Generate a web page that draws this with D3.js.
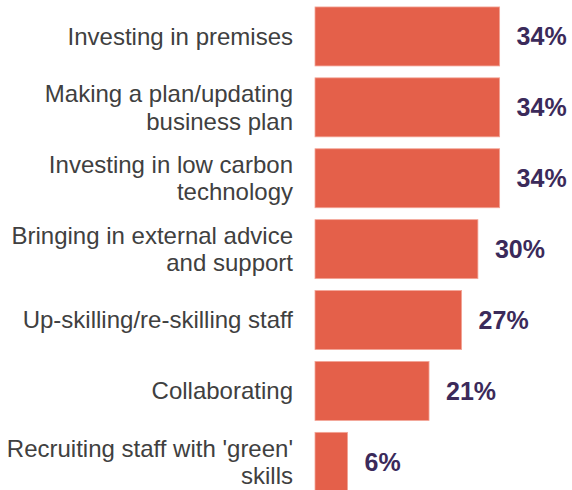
<!DOCTYPE html>
<html>
<head>
<meta charset="utf-8">
<script src="https://cdn.jsdelivr.net/npm/d3@7"></script>
<style>
  html, body { margin: 0; padding: 0; background: #ffffff; }
  svg { display: block; }
</style>
</head>
<body>
<script>
// Actions taken, share of businesses (%)
const categories = [
  "Investing in premises",
  "Making a plan/updating business plan",
  "Investing in low carbon technology",
  "Bringing in external advice and support",
  "Up-skilling/re-skilling staff",
  "Collaborating",
  "Recruiting staff with 'green' skills"
];
// Line breaks used for the category labels
const labelLines = [
  ["Investing in premises"],
  ["Making a plan/updating", "business plan"],
  ["Investing in low carbon", "technology"],
  ["Bringing in external advice", "and support"],
  ["Up-skilling/re-skilling staff"],
  ["Collaborating"],
  ["Recruiting staff with 'green'", "skills"]
];
const values = [34, 34, 34, 30, 27, 21, 6];
const valueLabels = ["34%", "34%", "34%", "30%", "27%", "21%", "6%"];

const width = 572, height = 490;
const barLeft = 315;

const svg = d3.select("body").append("svg")
  .attr("width", width)
  .attr("height", height);

const x = d3.scaleLinear().domain([0, 100]).range([barLeft, barLeft + 543]);
const y = d3.scaleBand()
  .domain(categories)
  .range([1, 497.3])
  .paddingInner(0.168)
  .paddingOuter(0.084);

const rows = categories.map((c, i) => ({
  cat: c, value: values[i], label: valueLabels[i], lines: labelLines[i]
}));

// Bars
svg.append("g").selectAll("rect")
  .data(rows)
  .join("rect")
  .attr("x", x(0))
  .attr("y", d => y(d.cat))
  .attr("width", d => x(d.value) - x(0))
  .attr("height", y.bandwidth())
  .attr("fill", "#e4604a")
  .attr("stroke", "#f3a597")
  .attr("stroke-width", 0.8);

// Value labels
svg.append("g").selectAll("text")
  .data(rows)
  .join("text")
  .attr("x", d => x(d.value) + 17)
  .attr("y", d => y(d.cat) + y.bandwidth() / 2)
  .attr("dy", "0.36em")
  .attr("font-family", "Liberation Sans, Arial, sans-serif")
  .attr("font-weight", "bold")
  .attr("font-size", 25)
  .attr("fill", "#3b2a5a")
  .text(d => d.label);

// Category labels, right aligned against the bars
const lineH = 27.5;
const catG = svg.append("g");
rows.forEach(d => {
  const cy = y(d.cat) + y.bandwidth() / 2;
  const n = d.lines.length;
  const t = catG.append("text")
    .attr("text-anchor", "end")
    .attr("font-family", "Liberation Sans, Arial, sans-serif")
    .attr("font-size", 24)
    .attr("fill", "#404040");
  d.lines.forEach((ln, j) => {
    t.append("tspan")
      .attr("x", 293)
      .attr("y", cy + (j - (n - 1) / 2) * lineH)
      .attr("dy", "0.35em")
      .text(ln);
  });
});
</script>
</body>
</html>
